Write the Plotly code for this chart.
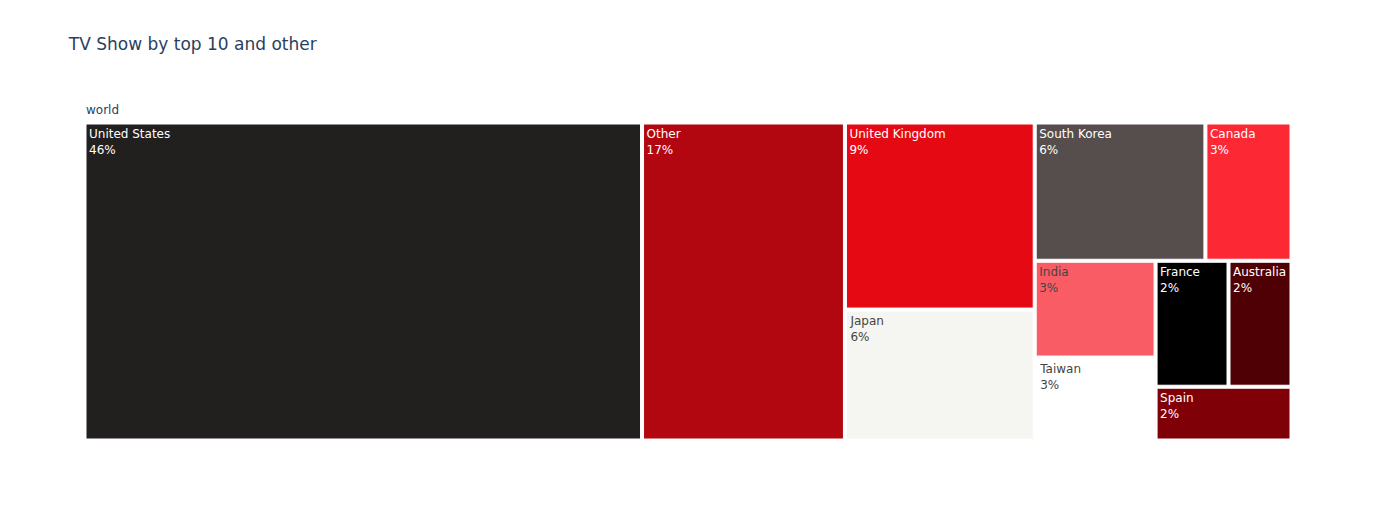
import plotly.graph_objects as go

countries = ["United States", "Other", "United Kingdom", "Japan", "South Korea",
             "Canada", "India", "Taiwan", "France", "Australia", "Spain"]
counts = [849, 309, 170, 119, 113, 57, 56, 48, 44, 38, 35]
colors = ["#221f1f", "#b20710", "#e50914", "#f5f5f1", "#564d4d",
          "#fc2834", "#f95c64", "#ffffff", "#000000", "#4f0005", "#800008"]
root = "world"

ids = [root] + [f"{root}/{c}" for c in countries]
labels = [root] + countries
parents = [""] + [root] * len(countries)
values = [sum(counts)] + counts
marker_colors = ["#ffffff"] + colors

fig = go.Figure(go.Treemap(
    ids=ids,
    labels=labels,
    parents=parents,
    values=values,
    branchvalues="total",
    marker=dict(colors=marker_colors),
    texttemplate="%{label}<br>%{percentRoot:.0%}",
    root_color="white",
))
fig.update_layout(
    title="TV Show by top 10 and other",
    width=1376, height=525,
    paper_bgcolor="white",
    font=dict(family="Verdana, DejaVu Sans, sans-serif"),
)
fig.write_html("out.html")
